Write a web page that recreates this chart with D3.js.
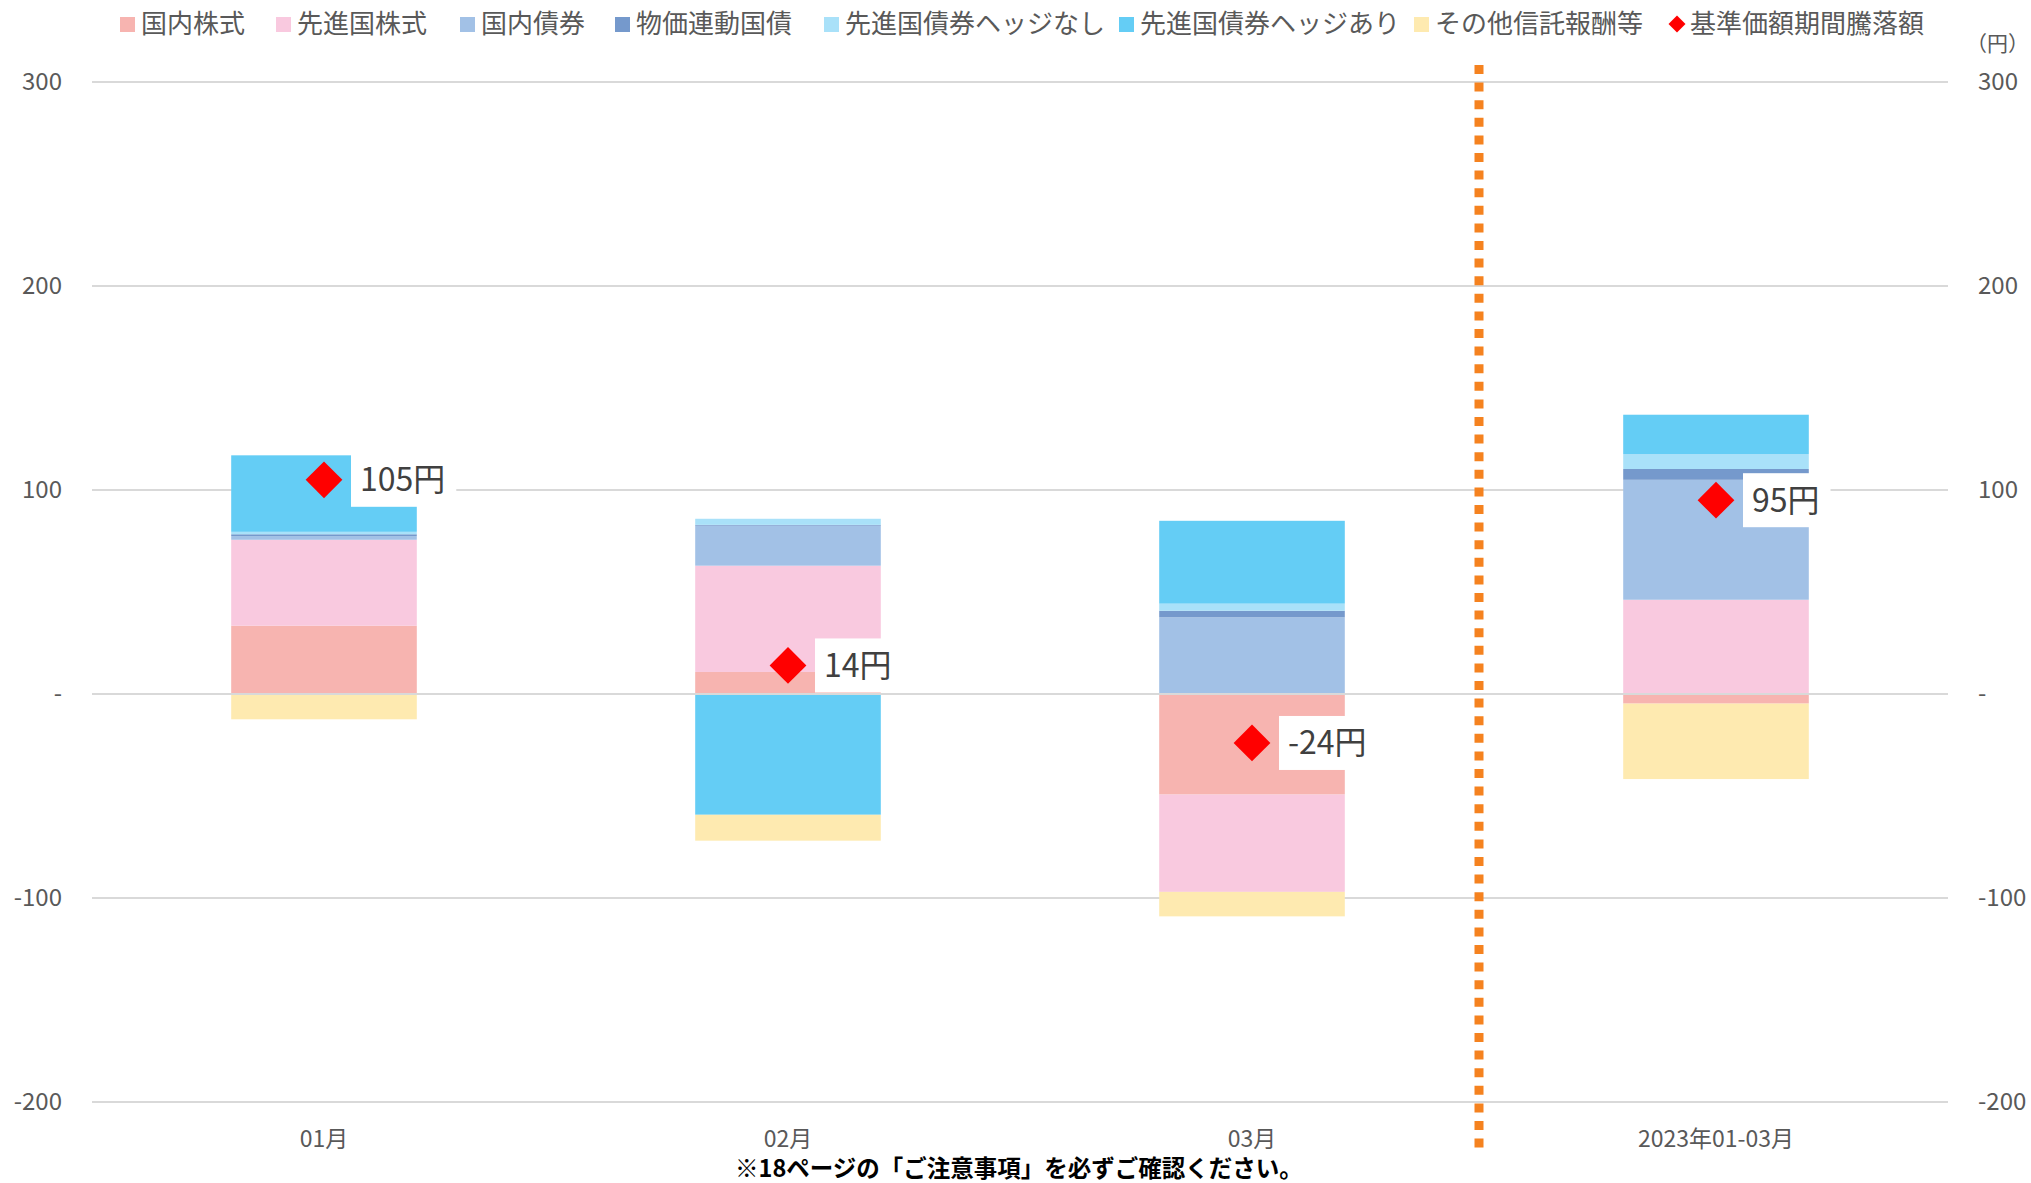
<!DOCTYPE html>
<html><head><meta charset="utf-8">
<script src="https://cdn.jsdelivr.net/npm/d3@7"></script>
<style>
html,body{margin:0;padding:0;background:#fff;}
svg{display:block;font-family:"Noto Sans CJK JP","Noto Sans",sans-serif;}
</style></head>
<body>
<svg id="chart" width="2031" height="1183"></svg>
<script>
const categories = ["01月", "02月", "03月", "2023年01-03月"];
const seriesNames = ["国内株式", "先進国株式", "国内債券", "物価連動国債", "先進国債券ヘッジなし", "先進国債券ヘッジあり", "その他信託報酬等"];
const domesticEquity = [33.5, 10.8, -49.3, -4.7];
const foreignEquity = [42.1, 52.1, -47.7, 46.2];
const domesticBond = [1.8, 19.6, 37.6, 58.8];
const inflationBond = [0.9, 0.4, 3.2, 5.3];
const foreignBondUnhedged = [1.2, 3.0, 3.5, 7.3];
const foreignBondHedged = [37.5, -59.2, 40.6, 19.3];
const feesOther = [-12.4, -12.7, -12.0, -37.0];
const navChange = [105, 14, -24, 95];
const navLabels = ["105円", "14円", "-24円", "95円"];
const yTicks = [300, 200, 100, 0, -100, -200];
const lineName = "基準価額期間騰落額";

const colors = ["#F7B4B0", "#F9C9DF", "#A2C1E6", "#7599CC", "#A9E1F9", "#64CDF5", "#FEEAB0"];
const seriesValues = [domesticEquity, foreignEquity, domesticBond, inflationBond, foreignBondUnhedged, foreignBondHedged, feesOther];

const table = categories.map((c, i) => {
  const row = {cat: c};
  seriesNames.forEach((s, k) => row[s] = seriesValues[k][i]);
  return row;
});

const svg = d3.select("#chart");
const x = d3.scaleBand().domain(categories).range([92, 1948]).paddingInner(0.6).paddingOuter(0.3);
const y = d3.scaleLinear().domain([-200, 300]).range([1102, 82]);

const gridColor = "#D9D9D9";
const textColor = "#595959";

// gridlines (non-zero)
svg.append("g").selectAll("line").data(yTicks.filter(t => t !== 0)).join("line")
  .attr("x1", 92).attr("x2", 1948)
  .attr("y1", d => y(d)).attr("y2", d => y(d))
  .attr("stroke", gridColor).attr("stroke-width", 2);

const fmt = d => d === 0 ? "-" : String(d);

// left axis
const leftAxis = svg.append("g").attr("transform", "translate(62,0)")
  .call(d3.axisLeft(y).tickValues(yTicks).tickFormat(fmt).tickSize(0).tickPadding(0));
leftAxis.select(".domain").remove();
leftAxis.selectAll("text").attr("font-size", 24).attr("fill", textColor)
  .attr("font-family", "'Noto Sans CJK JP', sans-serif");

// right axis
const rightAxis = svg.append("g").attr("transform", "translate(1978,0)")
  .call(d3.axisRight(y).tickValues(yTicks).tickFormat(fmt).tickSize(0).tickPadding(0));
rightAxis.select(".domain").remove();
rightAxis.selectAll("text").attr("font-size", 24).attr("fill", textColor)
  .attr("font-family", "'Noto Sans CJK JP', sans-serif");

// x axis labels
const xAxis = svg.append("g").attr("transform", "translate(0,1131)")
  .call(d3.axisBottom(x).tickSize(0).tickPadding(0));
xAxis.select(".domain").remove();
xAxis.selectAll("text").attr("font-size", 23).attr("fill", textColor)
  .attr("font-family", "'Noto Sans CJK JP', sans-serif");

// stacked bars
const stack = d3.stack().keys(seriesNames).offset(d3.stackOffsetDiverging);
const stacked = stack(table);
svg.append("g").selectAll("g").data(stacked).join("g")
  .attr("fill", (d, i) => colors[i])
  .selectAll("rect").data(d => d).join("rect")
  .attr("x", d => x(d.data.cat))
  .attr("width", x.bandwidth())
  .attr("y", d => y(Math.max(d[0], d[1])))
  .attr("height", d => Math.abs(y(d[0]) - y(d[1])));

// zero line on top
svg.append("line").attr("x1", 92).attr("x2", 1948)
  .attr("y1", y(0)).attr("y2", y(0))
  .attr("stroke", gridColor).attr("stroke-width", 2);

// dotted separator
const sepX = x(categories[3]) - x.step() * x.paddingInner() / 2 - 5;
svg.append("line").attr("x1", sepX).attr("x2", sepX).attr("y1", 65).attr("y2", 1150)
  .attr("stroke", "#F5821F").attr("stroke-width", 9).attr("stroke-dasharray", "9 8.6");

// diamonds + labels
const cx = i => x(categories[i]) + x.bandwidth() / 2;
const lab = svg.append("g");
navChange.forEach((v, i) => {
  const px = cx(i), py = y(v);
  const g = lab.append("g");
  const rect = g.append("rect").attr("fill", "#fff");
  const t = g.append("text").attr("x", px + 36).attr("y", py).attr("dy", "0.36em")
    .attr("font-size", 32).attr("fill", "#404040").text(navLabels[i]);
  const bb = t.node().getBBox();
  rect.attr("x", px + 27).attr("y", py - 27).attr("width", bb.width + 20).attr("height", 54);
});
svg.append("g").selectAll("path").data(navChange).join("path")
  .attr("d", d3.symbol(d3.symbolSquare, 26 * 26)())
  .attr("transform", (d, i) => `translate(${cx(i)},${y(d)}) rotate(45)`)
  .attr("fill", "#FF0000");

// legend
const legendX = [120, 276, 460, 615, 824, 1119, 1414];
const leg = svg.append("g");
seriesNames.forEach((s, i) => {
  leg.append("rect").attr("x", legendX[i]).attr("y", 17).attr("width", 15).attr("height", 15).attr("fill", colors[i]);
  leg.append("text").attr("x", legendX[i] + 21).attr("y", 24).attr("dy", "0.36em")
    .attr("font-size", 26).attr("fill", textColor).text(s);
});
leg.append("path").attr("d", d3.symbol(d3.symbolSquare, 12 * 12)())
  .attr("transform", "translate(1677,24) rotate(45)").attr("fill", "#FF0000");
leg.append("text").attr("x", 1690).attr("y", 24).attr("dy", "0.36em")
  .attr("font-size", 26).attr("fill", textColor).text(lineName);

// unit
svg.append("text").attr("x", 2029).attr("y", 43).attr("dy", "0.36em").attr("text-anchor", "end")
  .attr("font-size", 21).attr("fill", textColor).text("（円）");

// footer
svg.append("text").attr("x", 1019).attr("y", 1169).attr("dy", "0.36em").attr("text-anchor", "middle")
  .attr("font-size", 23.5).attr("font-weight", "bold").attr("fill", "#000")
  .text("※18ページの「ご注意事項」を必ずご確認ください。");
</script>
</body></html>
